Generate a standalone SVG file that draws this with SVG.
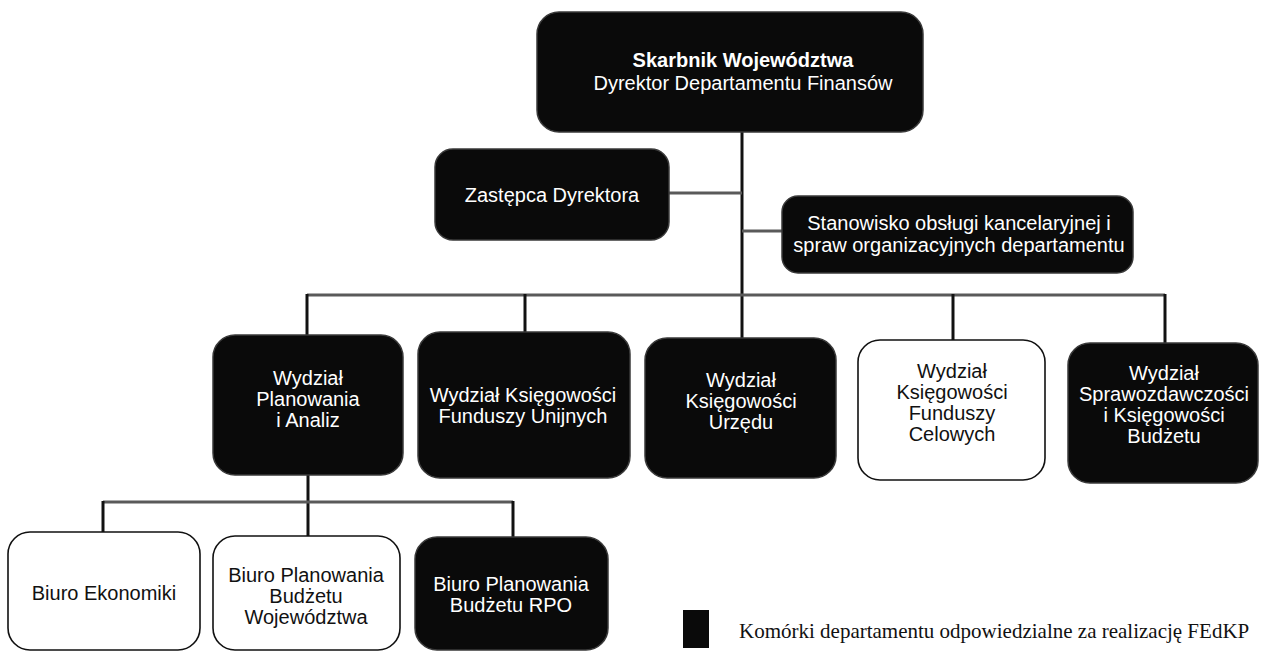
<svg xmlns="http://www.w3.org/2000/svg" width="1263" height="653" viewBox="0 0 1263 653">
<style>
  .dark { fill: #0a0a0a; stroke: #3a3a3a; stroke-width: 1.5; }
  .light { fill: #ffffff; stroke: #111111; stroke-width: 1.6; }
  .tw { font-family: "Liberation Sans", Arial, sans-serif; font-size: 20px; fill: #ffffff; text-anchor: middle; }
  .tb { font-family: "Liberation Sans", Arial, sans-serif; font-size: 20px; fill: #111111; text-anchor: middle; }
  .bold { font-weight: bold; }
  .h { stroke: #5a5a5a; stroke-width: 3; fill: none; }
  .v { stroke: #111111; stroke-width: 3; fill: none; }
  .legend { font-family: "Liberation Serif", "Times New Roman", serif; font-size: 21px; fill: #111111; }
</style>
<rect width="1263" height="653" fill="#ffffff"/>
<g id="connectors">
  <line class="v" x1="742" y1="132" x2="742" y2="338"/>
  <line class="h" x1="669" y1="193" x2="742" y2="193"/>
  <line class="h" x1="742" y1="231" x2="782" y2="231"/>
  <line class="h" x1="307" y1="295" x2="1165" y2="295"/>
  <line class="v" x1="307" y1="294" x2="307" y2="335"/>
  <line class="v" x1="525" y1="294" x2="525" y2="332"/>
  <line class="v" x1="953" y1="294" x2="953" y2="340"/>
  <line class="v" x1="1165" y1="294" x2="1165" y2="343"/>
  <line class="v" x1="308" y1="475" x2="308" y2="537"/>
  <line class="h" x1="103" y1="502" x2="513" y2="502"/>
  <line class="v" x1="103" y1="501" x2="103" y2="532"/>
  <line class="v" x1="513" y1="501" x2="513" y2="537"/>
</g>
<g id="skarbnik">
  <rect class="dark" x="537" y="12" width="386" height="120" rx="22"/>
  <text class="tw bold" x="743" y="67">Skarbnik Województwa</text>
  <text class="tw" x="743" y="90">Dyrektor Departamentu Finansów</text>
</g>
<g id="zastepca">
  <rect class="dark" x="435" y="149" width="234" height="91" rx="18"/>
  <text class="tw" x="552" y="202">Zastępca Dyrektora</text>
</g>
<g id="stanowisko">
  <rect class="dark" x="782" y="196" width="351" height="77" rx="16"/>
  <text class="tw" x="959" y="230">Stanowisko obsługi kancelaryjnej i</text>
  <text class="tw" x="959" y="252">spraw organizacyjnych departamentu</text>
</g>
<g id="wydzial-planowania">
  <rect class="dark" x="213" y="335" width="190" height="140" rx="22"/>
  <text class="tw" x="308" y="385">Wydział</text>
  <text class="tw" x="308" y="406">Planowania</text>
  <text class="tw" x="308" y="427">i Analiz</text>
</g>
<g id="wydzial-unijnych">
  <rect class="dark" x="418" y="332" width="212" height="146" rx="22"/>
  <text class="tw" x="523" y="402">Wydział Księgowości</text>
  <text class="tw" x="523" y="423">Funduszy Unijnych</text>
</g>
<g id="wydzial-urzedu">
  <rect class="dark" x="645" y="338" width="191" height="140" rx="22"/>
  <text class="tw" x="741" y="387">Wydział</text>
  <text class="tw" x="741" y="408">Księgowości</text>
  <text class="tw" x="741" y="429">Urzędu</text>
</g>
<g id="wydzial-celowych">
  <rect class="light" x="858" y="340" width="187" height="140" rx="22"/>
  <text class="tb" x="952" y="378">Wydział</text>
  <text class="tb" x="952" y="399">Księgowości</text>
  <text class="tb" x="952" y="420">Funduszy</text>
  <text class="tb" x="952" y="441">Celowych</text>
</g>
<g id="wydzial-budzetu">
  <rect class="dark" x="1068" y="343" width="190" height="140" rx="22"/>
  <text class="tw" x="1164" y="380">Wydział</text>
  <text class="tw" x="1164" y="401">Sprawozdawczości</text>
  <text class="tw" x="1164" y="422">i Księgowości</text>
  <text class="tw" x="1164" y="443">Budżetu</text>
</g>
<g id="biuro-ekonomiki">
  <rect class="light" x="8" y="532" width="192" height="118" rx="22"/>
  <text class="tb" x="104" y="600">Biuro Ekonomiki</text>
</g>
<g id="biuro-wojewodztwa">
  <rect class="light" x="213" y="536" width="187" height="114" rx="22"/>
  <text class="tb" x="306" y="582">Biuro Planowania</text>
  <text class="tb" x="306" y="603">Budżetu</text>
  <text class="tb" x="306" y="624">Województwa</text>
</g>
<g id="biuro-rpo">
  <rect class="dark" x="415" y="537" width="193" height="113" rx="22"/>
  <text class="tw" x="511" y="591">Biuro Planowania</text>
  <text class="tw" x="511" y="612">Budżetu RPO</text>
</g>
<g id="legend">
  <rect x="683" y="610" width="26" height="38" fill="#0a0a0a"/>
  <text class="legend" x="739" y="638">Komórki departamentu odpowiedzialne za realizację FEdKP</text>
</g>
</svg>
